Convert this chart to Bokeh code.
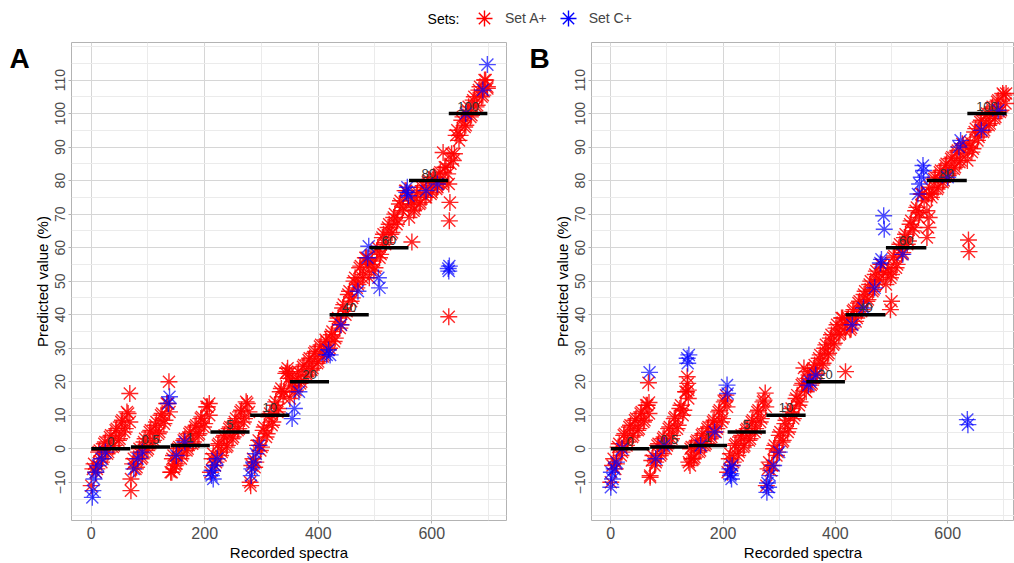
from bokeh.plotting import figure
from bokeh.models import ColumnDataSource, Range1d, FixedTicker, Legend, LegendItem
from bokeh.layouts import column, row
from bokeh.embed import file_html
from bokeh.resources import INLINE
from bokeh.core.properties import value

FONT = "Liberation Sans"
RED = "#FF0000"
BLUE = "#0000FF"

# ---------------- data ----------------
levels = [0, 0.5, 1, 5, 10, 20, 40, 60, 80, 100]
level_labels = ["0", "0.5", "1", "5", "10", "20", "40", "60", "80", "100"]
STEP = 5      # spectra between listed Set A+ predictions within a level
OFFSET2 = 3   # spectrum offset of the second listed run within a level

# Panel A: first / last spectrum index of each nominal level
A_start = [0, 70, 140, 210, 280, 350, 420, 490, 560, 630]
A_end = [69, 139, 209, 279, 349, 419, 489, 559, 629, 698]
# Set A+ predictions (first run: start + STEP*i, second run: start + OFFSET2 + STEP*i)
A_red_0 = [-11, -4.5, -6, -0.5, -3, 2, -1, 4, 1, 6, 3, 8.5, 6, 10.5]
A_red_0b = [-6, -7, -1, -4, 1.5, -1.5, 3.5, 0.5, 5.5, 2.5, 8, 5, 11, 8]
A_red_05 = [-9, -3, -5.5, 0, -2.5, 3, 0, 5.5, 2.5, 8, 5, 10.5, 8.5, 13.5]
A_red_05b = [-4.5, -6, -1, -3, 2, -0.5, 5, 2, 7, 4.5, 10, 7.5, 13.5, 11]
A_red_1 = [-7, -2, -4.5, 0.5, -2, 3, 0, 5, 2, 7, 4.5, 9.5, 7.5, 12.5]
A_red_1b = [-3, -5, 0, -3, 2.5, -0.5, 4.5, 1.5, 6.5, 4, 9, 6.5, 12.5, 10]
A_red_5 = [-7, -1.5, -4, 1.5, -1, 4, 1, 6.5, 3.5, 9, 6, 11.5, 9, 13.5]
A_red_5b = [-3, -5, 1, -2, 3.5, 0.5, 6, 3, 8, 5.5, 11, 8, 14, 11]
A_red_10 = [-10, -3, -4, 2.5, 0.5, 6.5, 4.5, 10.5, 8, 14, 12, 18, 17, 23]
A_red_10b = [-5, -5.5, 1, -0.5, 5.5, 3.5, 9.5, 7, 13, 11, 17, 15.5, 22.5, 21]
A_red_20 = [15, 20, 17.5, 23, 20, 25, 22, 27, 24, 29, 26, 31, 28, 32]
A_red_20b = [19, 17, 22, 19.5, 24.5, 21.5, 26.5, 23.5, 28.5, 25.5, 30.5, 27.5, 32.5, 29.5]
A_red_40 = [30, 35, 33, 39, 37, 43, 41, 47, 45, 51, 49, 54.5, 52, 57]
A_red_40b = [34, 32, 38, 36, 42, 40, 46, 44, 50, 48, 54, 51, 57, 55]
A_red_60 = [51, 56, 54, 60, 58, 64, 61.5, 67, 64.5, 70, 68, 74, 72, 77]
A_red_60b = [55, 53, 59, 57, 63, 61, 66, 64, 69, 67, 73, 71, 77, 75]
A_red_80 = [69, 74, 71.5, 76.5, 73.5, 78.5, 75, 80, 76.5, 81, 78, 82.5, 79.5, 84]
A_red_80b = [73, 71, 76, 73, 78, 75, 79.5, 76, 81, 77.5, 82, 79, 84, 82]
A_red_100 = [79, 88, 88, 95, 93.5, 99, 96.5, 102, 99.5, 105, 102.5, 108, 105.5, 110]
A_red_100b = [85, 86, 93.5, 92, 98, 96, 101, 99, 104, 102, 107, 105, 110, 107.5]
A_red_extra = [(68, 16.5), (70, -12.5), (137, 20), (142, -7), (146, -6), (208, 13.5),
               (281, -11), (346, 24), (349, 22.5), (565, 61.7), (620, 88.4),
               (630, 39.4), (631, 68), (632, 73.5), (698, 108)]
A_blue = [(2, -14.5), (3, -12.5), (5, -9), (8, -7), (12, -5), (18, -3), (25, -1),
          (75, -6), (82, -3), (90, -1), (136, 13.5), (138, 15.5), (150, -2), (165, 2),
          (212, -8), (213, -6.5), (215, -9), (218, -5), (222, -3),
          (282, -8), (283, -6), (286, -4), (290, -1.5), (296, 1),
          (354, 9), (358, 12), (366, 17), (415, 28), (418, 29.5), (421, 28),
          (440, 37), (470, 47), (487, 57), (489, 60.4), (506, 51), (508, 48),
          (556, 76.5), (557, 78), (559, 75.5), (590, 77), (610, 79),
          (629, 53.8), (630, 53), (631, 54.5), (660, 100), (690, 107), (698, 114.6)]

# Panel B
B_start = [0, 70, 139, 208, 277, 348, 418, 490, 563, 635]
B_end = [69, 138, 207, 276, 347, 417, 489, 562, 634, 705]
B_red_0 = [-10, -3, -4.5, 1.5, -1, 4.5, 2, 7, 4, 9, 6, 11, 8.5, 13]
B_red_0b = [-5, -6, 0.5, -2, 4, 1, 6.5, 3.5, 8.5, 5.5, 10.5, 8, 13, 10.5]
B_red_05 = [-8, -2, -4, 1.5, -1.5, 3.5, 1, 6.5, 4, 9.5, 7, 13, 11.5, 17]
B_red_05b = [-3.5, -5, 1, -2, 3, 0, 6, 3, 9, 6, 12, 10, 17, 15]
B_red_1 = [-4, 0.5, -2.5, 2.5, -0.5, 4.5, 1.5, 6.5, 3.5, 8.5, 6, 11.5, 9, 14.5]
B_red_1b = [0, -3, 2, -1, 4, 1, 6, 3, 8, 5, 11, 8, 14, 12.5]
B_red_5 = [-7, -1.5, -4, 1.5, -1, 4, 1, 6, 3, 8.5, 6, 11.5, 9, 14.5]
B_red_5b = [-3, -5, 1, -2, 3.5, 0.5, 5.5, 2.5, 8, 5, 11, 8, 14, 12.5]
B_red_10 = [-11, -4, -5, 1, -1, 5, 2.5, 8.5, 6, 12, 10, 16, 14, 19.5]
B_red_10b = [-6, -6.5, 0, -2, 4, 2, 7.5, 5, 11, 9, 15, 13, 19, 17.5]
B_red_20 = [17, 22, 19.5, 25, 22.5, 28, 25.5, 31, 28.5, 34, 31.5, 37, 34.5, 39]
B_red_20b = [21, 19, 24, 22, 27, 25, 30, 28, 33, 31, 36, 34, 39, 37]
B_red_40 = [35, 39, 36, 41.5, 39, 44, 41.5, 47, 44.5, 50, 47.5, 53, 50.5, 55]
B_red_40b = [38.5, 35.5, 41, 38, 43.5, 41, 46, 44, 49, 47, 52, 50, 55, 52.5]
B_red_60 = [49, 54, 52, 57.5, 55, 61, 58.5, 64, 62, 68, 66, 72, 70.5, 76]
B_red_60b = [53, 51, 57, 54, 60, 58, 63, 61, 67, 65, 71, 69, 76, 74]
B_red_80 = [71, 78, 76, 81, 78, 83, 80, 85, 82, 87, 84, 89, 86, 90.5]
B_red_80b = [76, 75, 80.5, 77.5, 82.5, 79.5, 84.5, 81.5, 86.5, 83.5, 88.5, 85.5, 91, 88]
B_red_100 = [86, 91.5, 89.5, 95.5, 93, 98, 95, 100, 97, 102, 99, 104, 101, 105.5]
B_red_100b = [90, 88.5, 94.5, 92, 97.5, 94.5, 99.5, 96.5, 101.5, 98.5, 103.5, 100.5, 106, 103]
B_red_extra = [(67, 19.7), (68, 13.8), (70, -8.5), (136, 21.5), (137, 19.5), (138, 17.5),
               (141, -5), (144, -3), (205, 16), (275, 16.6), (344, 24.1), (350, 23),
               (418, 23), (498, 41.5), (500, 44), (563, 63), (565, 66), (567, 69),
               (637, 62.3), (638, 58.8), (704, 106)]
B_blue = [(0, -11.5), (1, -7), (3, -9), (6, -6), (10, -4), (20, 0), (69, 22.8),
          (80, -3), (95, 1), (136, 27), (137, 25.5), (139, 28), (160, 1), (185, 5),
          (207, 19), (208, 16.5), (212, -6), (213, -8), (214, -7.5), (215, -9), (216, -5),
          (278, -13), (279, -10.2), (281, -11.5), (283, -8), (290, -5), (300, -1),
          (352, 19), (355, 20), (365, 22), (430, 37), (450, 42), (470, 48),
          (480, 55.4), (482, 56.5), (486, 69.5), (487, 65.5), (520, 58),
          (547, 76), (550, 79), (553, 81), (556, 84.5), (557, 83),
          (600, 81), (620, 90), (623, 92), (635, 8.7), (636, 7.2), (660, 95), (690, 101)]

A_red = [A_red_0, A_red_05, A_red_1, A_red_5, A_red_10, A_red_20, A_red_40, A_red_60, A_red_80, A_red_100]
A_red2 = [A_red_0b, A_red_05b, A_red_1b, A_red_5b, A_red_10b, A_red_20b, A_red_40b, A_red_60b, A_red_80b, A_red_100b]
B_red = [B_red_0, B_red_05, B_red_1, B_red_5, B_red_10, B_red_20, B_red_40, B_red_60, B_red_80, B_red_100]
B_red2 = [B_red_0b, B_red_05b, B_red_1b, B_red_5b, B_red_10b, B_red_20b, B_red_40b, B_red_60b, B_red_80b, B_red_100b]

y_ticks = list(range(-10, 111, 10))
y_minor = list(range(-15, 120, 10)) + list(range(-20, 121, 10))
x_ticks = [0, 200, 400, 600]
x_minor = [100, 300, 500, 700]


def letter_strip(letter):
    s = figure(width=30, height=521, output_backend="svg", toolbar_location=None,
               x_range=Range1d(0, 30), y_range=Range1d(0, 521),
               x_axis_location=None, y_axis_location=None,
               min_border_left=0, min_border_right=0, min_border_top=0, min_border_bottom=0)
    s.outline_line_color = None
    s.xgrid.visible = False
    s.ygrid.visible = False
    s.text(x=[9], y=[520], text=[letter], text_font=value(FONT), text_font_size="28px",
           text_font_style="bold", text_color="black", text_baseline="top",
           text_align="left")
    return s


def build_panel(starts, ends, reds, reds2, red_extra, blues, xr, width, border_right):
    p = figure(width=width, height=521, output_backend="svg", toolbar_location=None,
               x_range=xr, y_range=Range1d(-21.4, 121.2),
               min_border_left=41, min_border_right=border_right,
               min_border_top=0, min_border_bottom=41)
    p.background_fill_color = "white"
    p.border_fill_color = "white"
    p.outline_line_color = "#B3B3B3"
    p.outline_line_width = 1

    p.xaxis.ticker = FixedTicker(ticks=x_ticks, minor_ticks=x_minor)
    p.yaxis.ticker = FixedTicker(ticks=y_ticks, minor_ticks=y_minor)
    p.xgrid.grid_line_color = "#D6D6D6"
    p.ygrid.grid_line_color = "#D6D6D6"
    p.xgrid.minor_grid_line_color = "#EBEBEB"
    p.ygrid.minor_grid_line_color = "#EBEBEB"
    for ax in (p.xaxis, p.yaxis):
        ax.axis_line_color = None
        ax.major_tick_line_color = "#B3B3B3"
        ax.major_tick_out = 3
        ax.major_tick_in = 0
        ax.minor_tick_line_color = None
        ax.major_label_text_font = FONT
        ax.major_label_text_color = "#4D4D4D"
        ax.axis_label_text_font = FONT
        ax.axis_label_text_font_style = "normal"
        ax.axis_label_text_color = "black"
        ax.axis_label_text_font_size = "15px"
        ax.major_label_standoff = 2
    p.xaxis.major_label_text_font_size = "16px"
    p.yaxis.major_label_text_font_size = "14px"
    p.yaxis.major_label_orientation = "vertical"
    p.xaxis.axis_label = "Recorded spectra"
    p.yaxis.axis_label = "Predicted value (%)"
    p.xaxis.axis_label_standoff = 2
    p.yaxis.axis_label_standoff = 2

    rx, ry = [], []
    for s, vals, vals2 in zip(starts, reds, reds2):
        for i, v in enumerate(vals):
            rx.append(s + STEP * i)
            ry.append(v)
        for i, v in enumerate(vals2):
            rx.append(s + OFFSET2 + STEP * i)
            ry.append(v)
    rx += [q[0] for q in red_extra]
    ry += [q[1] for q in red_extra]
    red_src = ColumnDataSource(dict(x=rx, y=ry))
    blue_src = ColumnDataSource(dict(x=[q[0] for q in blues], y=[q[1] for q in blues]))
    p.scatter("x", "y", source=red_src, marker="asterisk", size=17, line_color=RED,
              line_width=1.4, line_alpha=0.85)
    p.scatter("x", "y", source=blue_src, marker="asterisk", size=17, line_color=BLUE,
              line_width=1.4, line_alpha=0.7)

    seg_src = ColumnDataSource(dict(x0=starts, x1=ends, y=levels,
                                    xm=[(a + b) / 2 for a, b in zip(starts, ends)],
                                    lab=level_labels))
    p.segment(x0="x0", x1="x1", y0="y", y1="y", source=seg_src, line_color="black",
              line_width=3.5)
    p.text(x="xm", y="y", text="lab", source=seg_src, text_align="center",
           text_baseline="bottom", y_offset=-3, text_font_size="13px",
           text_color="#333333", text_font=value(FONT))
    return p


pA = build_panel(A_start, A_end, A_red, A_red2, A_red_extra, A_blue,
                 Range1d(-34.7, 731.7), 490, 14)
pB = build_panel(B_start, B_end, B_red, B_red2, B_red_extra, B_blue,
                 Range1d(-34.4, 719), 464, 0)

# legend strip
pl = figure(width=1014, height=42, output_backend="svg", toolbar_location=None,
            x_range=Range1d(0, 1014), y_range=Range1d(0, 42),
            x_axis_location=None, y_axis_location=None,
            min_border_left=0, min_border_right=0, min_border_top=0, min_border_bottom=0)
pl.outline_line_color = None
pl.xgrid.visible = False
pl.ygrid.visible = False
ra = pl.scatter(x=[-50], y=[-50], marker="asterisk", size=17, line_color=RED, line_width=1.4)
rc = pl.scatter(x=[-50], y=[-50], marker="asterisk", size=17, line_color=BLUE, line_width=1.4)
pl.text(x=[459], y=[24], text=["Sets:"], text_font=value(FONT), text_font_size="14px",
        text_color="black", text_align="right", text_baseline="middle")
leg = Legend(items=[LegendItem(label="Set A+", renderers=[ra]),
                    LegendItem(label="Set C+", renderers=[rc])],
             orientation="horizontal", location=(463, 4),
             glyph_width=42, glyph_height=40,
             label_text_font=FONT, label_text_font_size="14px",
             label_standoff=0, spacing=0, padding=0, margin=0,
             background_fill_alpha=0, border_line_color=None)
pl.add_layout(leg)

layout = column(pl, row(letter_strip("A"), pA, letter_strip("B"), pB, spacing=0), spacing=0)
open("out.html", "w").write(file_html(layout, INLINE))
